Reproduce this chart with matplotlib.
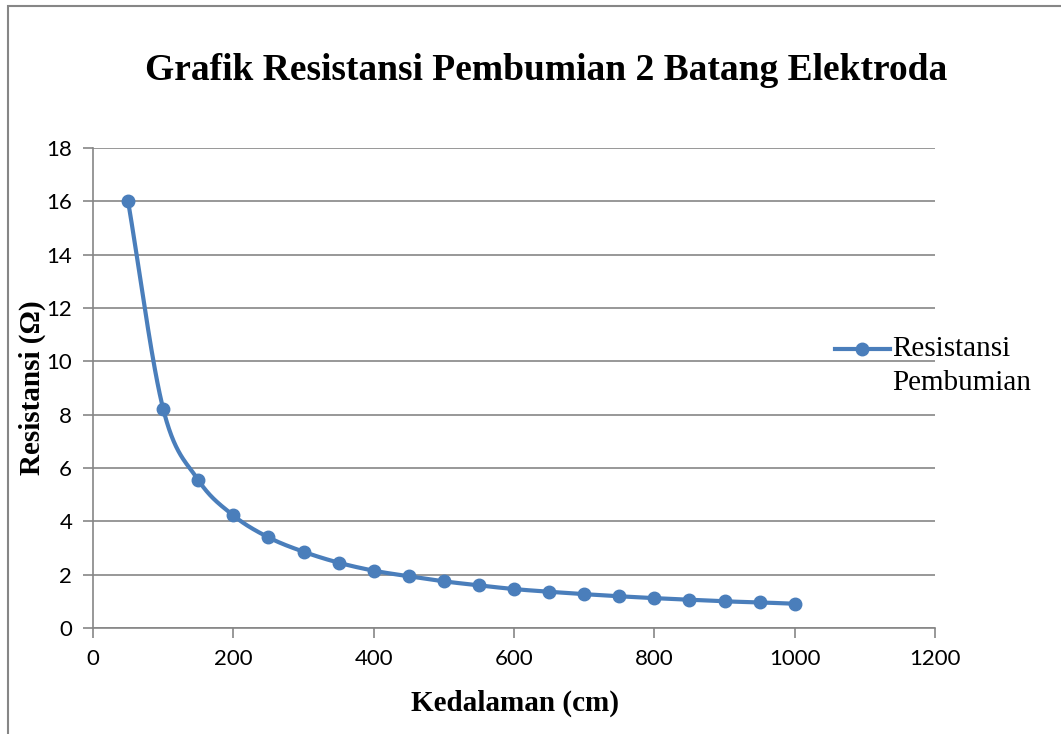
import numpy as np
import matplotlib
matplotlib.use("Agg")
import matplotlib.pyplot as plt
from matplotlib.patches import Rectangle

# data
kedalaman = [50, 100, 150, 200, 250, 300, 350, 400, 450, 500,
             550, 600, 650, 700, 750, 800, 850, 900, 950, 1000]
resistansi = [16.0, 8.22, 5.55, 4.22, 3.40, 2.86, 2.45, 2.15, 1.94, 1.75,
              1.60, 1.46, 1.36, 1.27, 1.19, 1.12, 1.06, 1.00, 0.96, 0.91]

title = "Grafik Resistansi Pembumian 2 Batang Elektroda"
xlabel = "Kedalaman (cm)"
ylabel = "Resistansi (\u03a9)"
series_name = "Resistansi\nPembumian"

blue = "#4a7ebb"
grey = "#868686"


def smooth(xs, ys, n=30):
    # catmull-rom curve through the points, like excel's smoothed line
    x = np.asarray(xs, float)
    y = np.asarray(ys, float)
    px = np.concatenate([[2 * x[0] - x[1]], x, [2 * x[-1] - x[-2]]])
    py = np.concatenate([[2 * y[0] - y[1]], y, [2 * y[-1] - y[-2]]])
    outx, outy = [], []
    t = np.linspace(0, 1, n, endpoint=False)
    for i in range(1, len(px) - 2):
        for arr, out in ((px, outx), (py, outy)):
            p0, p1, p2, p3 = arr[i - 1], arr[i], arr[i + 1], arr[i + 2]
            m1 = (p2 - p0) / 6
            m2 = (p3 - p1) / 6
            b = ((1 - t) ** 3 * p1 + 3 * (1 - t) ** 2 * t * (p1 + m1)
                 + 3 * (1 - t) * t ** 2 * (p2 - m2) + t ** 3 * p2)
            out.extend(b)
    outx.append(x[-1])
    outy.append(y[-1])
    return np.array(outx), np.array(outy)


W, H = 1061, 734
fig = plt.figure(figsize=(W / 100, H / 100), dpi=100)

# chart area border
fig.patches.append(Rectangle((8 / W, -0.1), 1.2, 1 - 6 / H + 0.1,
                             transform=fig.transFigure, fill=False,
                             edgecolor=grey, linewidth=1.5))

ax = fig.add_axes([93 / W, 1 - 628 / H, (935 - 93) / W, (628 - 148) / H])

sx, sy = smooth(kedalaman, resistansi)
ax.plot(sx, sy, color=blue, linewidth=3.0, solid_capstyle="round", zorder=3)
ax.plot(kedalaman, resistansi, linestyle="none", marker="o", markersize=9,
        color=blue, zorder=4)

ax.set_xlim(0, 1200)
ax.set_ylim(0, 18)
ax.set_xticks(range(0, 1201, 200))
ax.set_yticks(range(0, 19, 2))
ax.yaxis.grid(True, color=grey, linewidth=1.2)
ax.set_axisbelow(True)
for s in ["top", "right"]:
    ax.spines[s].set_visible(False)
for s in ["left", "bottom"]:
    ax.spines[s].set_color(grey)
    ax.spines[s].set_linewidth(1.2)
ax.tick_params(direction="out", length=7, width=1.2, color=grey,
               labelsize=16, pad=8)
for lab in ax.get_xticklabels() + ax.get_yticklabels():
    lab.set_fontfamily("Lato")

fig.text(546 / W, 1 - 70 / H, title, ha="center", va="center",
         fontsize=27, fontweight="bold", family="Liberation Serif")
fig.text(515 / W, 1 - 703 / H, xlabel, ha="center", va="center",
         fontsize=21, fontweight="bold", family="Liberation Serif")
fig.text(32 / W, 1 - 388 / H, ylabel, ha="center", va="center",
         rotation=90, fontsize=21, fontweight="bold", family="Liberation Serif")

# legend
fig.lines.append(plt.Line2D([835 / W, 890 / W], [1 - 349 / H, 1 - 349 / H],
                            transform=fig.transFigure, color=blue,
                            linewidth=3.0, zorder=5))
fig.lines.append(plt.Line2D([862 / W], [1 - 349 / H],
                            transform=fig.transFigure, color=blue,
                            marker="o", markersize=9, zorder=5))
fig.text(892 / W, 1 - 336 / H, series_name, ha="left", va="top",
         fontsize=21, family="Liberation Serif", linespacing=1.4)

fig.savefig("out.png", dpi=100)
